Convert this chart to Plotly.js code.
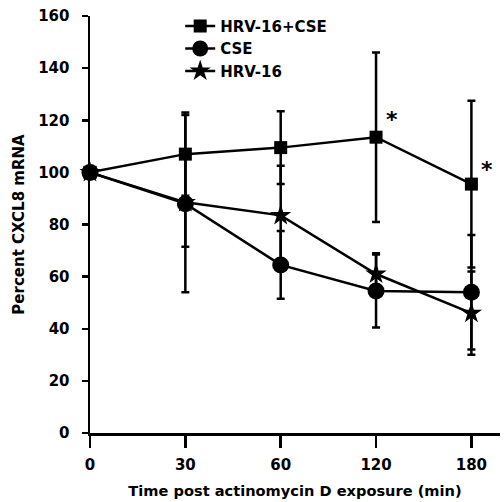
<!DOCTYPE html>
<html>
<head>
<meta charset="utf-8">
<script src="https://cdn.plot.ly/plotly-3.0.1.min.js"></script>
<style>html,body{margin:0;padding:0;background:#fff;}#chart{width:504px;height:502px;}</style>
</head>
<body>
<div id="chart"></div>
<script>
// Data
var timeLabels = ['0', '30', '60', '120', '180'];
var hrvCse = [100, 107, 109.5, 113.5, 95.5];
var hrvCseErr = [0, 16, 14, 32.5, 32];
var cse = [100, 88, 64.5, 54.5, 54];
var cseErr = [0, 34, 13, 14, 22];
var hrv = [100, 88.5, 83.5, 61, 46];
var hrvErr = [0, 17, 19, 8, 16];
var sigIndex = [3, 4]; // points marked with asterisk (HRV-16+CSE)

var xIdx = timeLabels.map(function (_, i) { return i; });
var FONT = 'DejaVu Sans, Arial, sans-serif';

function trace(name, y, err, symbol, size) {
  return {
    type: 'scatter', mode: 'lines+markers', name: name,
    x: xIdx, y: y,
    line: {color: '#000', width: 2.5},
    marker: {symbol: symbol, size: size, color: '#000'},
    error_y: {type: 'data', array: err, visible: true, color: '#000', thickness: 2.5, width: 4},
    cliponaxis: false
  };
}

var data = [
  trace('HRV-16+CSE', hrvCse, hrvCseErr, 'square', 13),
  trace('CSE', cse, cseErr, 'circle', 17),
  trace('HRV-16', hrv, hrvErr, 'star', 16)
];

var annotations = sigIndex.map(function (i) {
  return {
    x: i, y: hrvCse[i], xref: 'x', yref: 'y',
    text: '<b>*</b>', showarrow: false,
    xshift: 16, yshift: i === 3 ? 18 : 15,
    font: {family: FONT, size: 22, color: '#000'}
  };
});

var layout = {
  width: 504, height: 502,
  margin: {l: 90, r: 4, t: 16, b: 69},
  paper_bgcolor: '#fff', plot_bgcolor: '#fff',
  showlegend: true,
  legend: {
    x: 0.22, y: 1.015, xanchor: 'left', yanchor: 'top',
    bgcolor: 'rgba(0,0,0,0)',
    font: {family: FONT, size: 15, color: '#000', weight: 'bold'},
    tracegroupgap: 3
  },
  xaxis: {
    range: [0, 4.3],
    tickmode: 'array', tickvals: xIdx, ticktext: timeLabels,
    showline: true, linecolor: '#000', linewidth: 2.5,
    ticks: 'outside', ticklen: 12, tickwidth: 2.5, tickcolor: '#000',
    ticklabelstandoff: 4,
    showgrid: false, zeroline: false,
    tickfont: {family: FONT, size: 15, color: '#000', weight: 'bold'},
    title: {text: 'Time post actinomycin D exposure (min)', font: {family: FONT, size: 14.6, color: '#000', weight: 'bold'}, standoff: 14}
  },
  yaxis: {
    range: [0, 160],
    tickmode: 'linear', tick0: 0, dtick: 20,
    showline: true, linecolor: '#000', linewidth: 2.5,
    ticks: 'outside', ticklen: 6, tickwidth: 2.5, tickcolor: '#000',
    ticklabelstandoff: 9,
    showgrid: false, zeroline: false,
    tickfont: {family: FONT, size: 15, color: '#000', weight: 'bold'},
    title: {text: 'Percent CXCL8 mRNA', font: {family: FONT, size: 15, color: '#000', weight: 'bold'}, standoff: 10}
  },
  annotations: annotations
};

Plotly.newPlot('chart', data, layout, {displayModeBar: false, staticPlot: true});
</script>
</body>
</html>
